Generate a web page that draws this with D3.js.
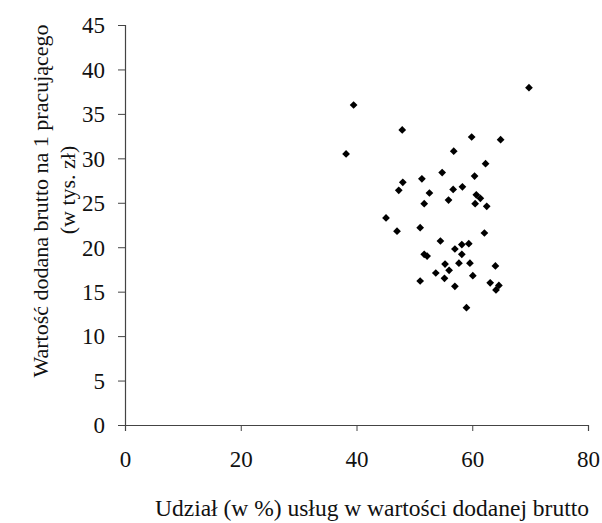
<!DOCTYPE html>
<html><head><meta charset="utf-8">
<script src="https://cdn.jsdelivr.net/npm/d3@7"></script>
<style>body{margin:0;background:#fff}svg{display:block}text{font-family:"Liberation Serif","Times New Roman",serif;fill:#111}</style>
</head><body>
<script>
const xValues = [39.5,69.8,47.9,38.2,59.9,64.9,56.8,62.3,54.8,60.4,51.3,48.0,47.3,52.6,56.7,58.3,55.9,51.7,60.7,61.4,60.5,62.5,45.1,47.0,51.0,62.1,54.5,58.2,59.4,57.0,51.7,52.2,58.2,55.3,57.7,59.6,64.0,56.0,53.7,55.2,60.1,51.0,57.0,63.1,64.6,64.1,59.0];
const yValues = [36.0,37.95,33.2,30.5,32.4,32.1,30.8,29.4,28.4,28.0,27.7,27.3,26.4,26.1,26.5,26.8,25.3,24.9,25.9,25.5,24.9,24.6,23.3,21.8,22.2,21.6,20.7,20.3,20.4,19.8,19.2,19.0,19.2,18.1,18.2,18.2,17.9,17.4,17.1,16.5,16.8,16.2,15.6,16.0,15.7,15.2,13.2];
const xTicks = [0,20,40,60,80];
const yTicks = [0,5,10,15,20,25,30,35,40,45];
const xTitle = "Udział (w %) usług w wartości dodanej brutto";
const yTitle1 = "Wartość dodana brutto na 1 pracującego";
const yTitle2 = "(w tys. zł)";

const W=602,H=523;
const svg=d3.select("body").append("svg").attr("width",W).attr("height",H);
const x=d3.scaleLinear().domain([0,80]).range([125,588]);
const y=d3.scaleLinear().domain([0,45]).range([425,25]);

const gx=svg.append("g").attr("transform","translate(0,425)")
  .call(d3.axisBottom(x).tickValues(xTicks).tickSize(6).tickPadding(20).tickFormat(d3.format("d")));
const gy=svg.append("g").attr("transform","translate(125,0)")
  .call(d3.axisLeft(y).tickValues(yTicks).tickSize(7).tickPadding(13).tickFormat(d3.format("d")));
[gx,gy].forEach(g=>{
  g.select(".domain").attr("stroke","#444").attr("stroke-width",1.2);
  g.selectAll(".tick line").attr("stroke","#444");
  g.selectAll("text").attr("font-size",23).attr("font-family","Liberation Serif").attr("fill","#111");
});
gy.selectAll(".tick text").attr("dy","0.34em");

svg.append("g").selectAll("path").data(xValues.map((v,i)=>[v,yValues[i]])).join("path")
  .attr("d",d3.symbol().type(d3.symbolSquare).size(30))
  .attr("transform",d=>`translate(${x(d[0])},${y(d[1])}) rotate(45)`)
  .attr("fill","#000");

svg.append("text").attr("x",372).attr("y",516).attr("text-anchor","middle").attr("font-size",23.5).text(xTitle);
svg.append("text").attr("transform","translate(48,201) rotate(-90)").attr("text-anchor","middle").attr("font-size",22).text(yTitle1);
svg.append("text").attr("transform","translate(75,190) rotate(-90)").attr("text-anchor","middle").attr("font-size",22).text(yTitle2);
</script>
</body></html>
